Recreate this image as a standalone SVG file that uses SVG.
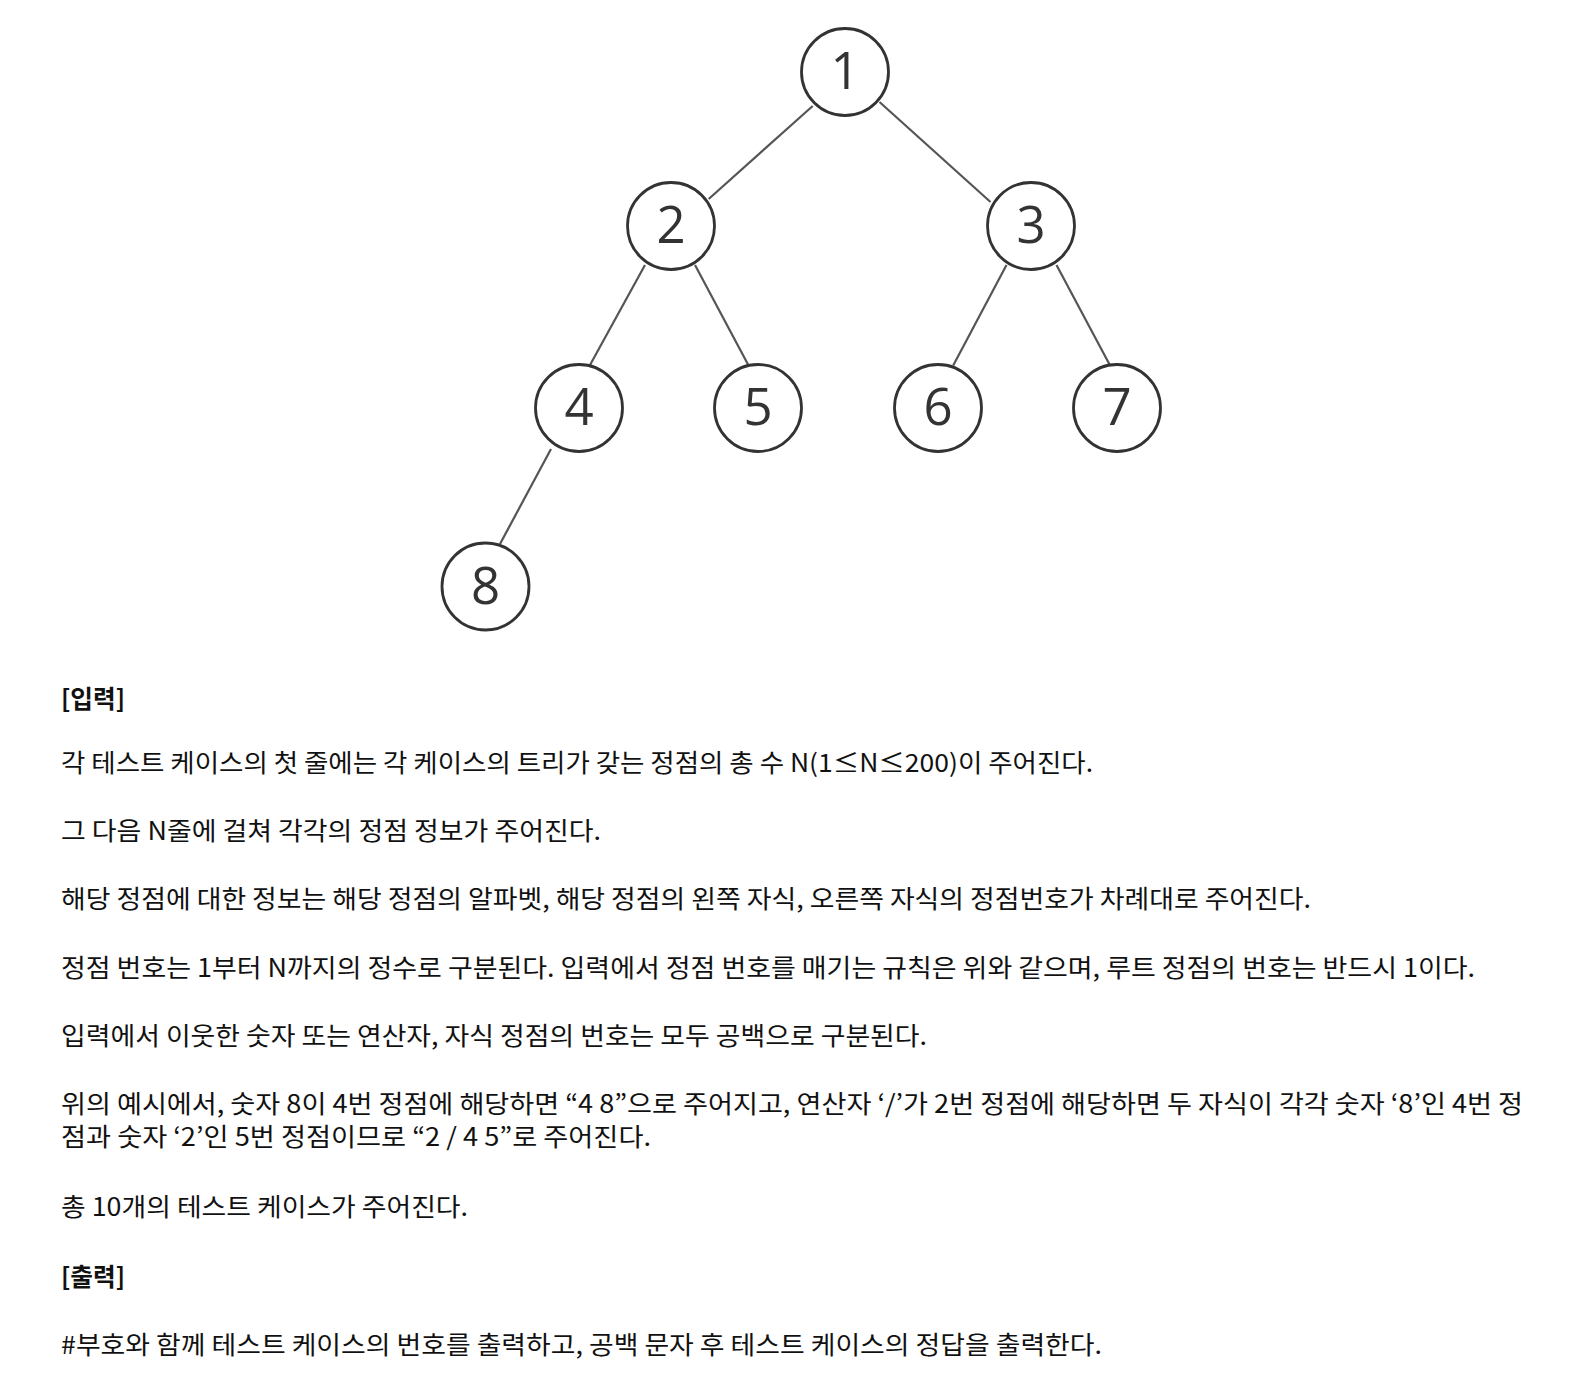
<svg xmlns="http://www.w3.org/2000/svg" width="1594" height="1382" viewBox="0 0 1594 1382">
<style>
.node circle{fill:#fff;stroke:#333;stroke-width:2.8}
.node text{font-family:"Open Sans","Noto Sans",sans-serif;font-size:51px;fill:#333;text-anchor:middle}
.edges line{stroke:#555;stroke-width:2.2}
.t{font-family:"Noto Sans CJK KR","Noto Sans",sans-serif;font-size:25px;fill:#111}
.h{font-weight:bold}
</style>
<rect width="1594" height="1382" fill="#fff"/>
<g id="edges" class="edges">
<line x1="812.7" y1="106" x2="708.7" y2="199"/>
<line x1="879.5" y1="102" x2="990.5" y2="202"/>
<line x1="645" y1="265" x2="590" y2="365"/>
<line x1="695" y1="265" x2="748.3" y2="365"/>
<line x1="1006.5" y1="265" x2="953.2" y2="365.5"/>
<line x1="1056.5" y1="265" x2="1109.8" y2="365"/>
<line x1="551" y1="449" x2="500" y2="544"/>
</g>
<g id="n1" class="node"><circle cx="845" cy="72" r="43.5"/><text x="845" y="89">1</text></g>
<g id="n2" class="node"><circle cx="671" cy="226" r="43.5"/><text x="671" y="243">2</text></g>
<g id="n3" class="node"><circle cx="1031" cy="226" r="43.5"/><text x="1031" y="243">3</text></g>
<g id="n4" class="node"><circle cx="579" cy="408" r="43.5"/><text x="579" y="425">4</text></g>
<g id="n5" class="node"><circle cx="758" cy="408" r="43.5"/><text x="758" y="425">5</text></g>
<g id="n6" class="node"><circle cx="938" cy="408" r="43.5"/><text x="938" y="425">6</text></g>
<g id="n7" class="node"><circle cx="1117" cy="408" r="43.5"/><text x="1117" y="425">7</text></g>
<g id="n8" class="node"><circle cx="485.5" cy="586.5" r="43.5"/><text x="485.5" y="603.5">8</text></g>
<g id="text">
<text class="t h" x="61" y="708" textLength="64" lengthAdjust="spacingAndGlyphs">[입력]</text>
<text class="t" x="61" y="772" textLength="1032" lengthAdjust="spacingAndGlyphs">각 테스트 케이스의 첫 줄에는 각 케이스의 트리가 갖는 정점의 총 수 N(1≤N≤200)이 주어진다.</text>
<text class="t" x="61" y="840" textLength="540" lengthAdjust="spacingAndGlyphs">그 다음 N줄에 걸쳐 각각의 정점 정보가 주어진다.</text>
<text class="t" x="61" y="908" textLength="1250" lengthAdjust="spacingAndGlyphs">해당 정점에 대한 정보는 해당 정점의 알파벳, 해당 정점의 왼쪽 자식, 오른쪽 자식의 정점번호가 차례대로 주어진다.</text>
<text class="t" x="61" y="977" textLength="1414" lengthAdjust="spacingAndGlyphs">정점 번호는 1부터 N까지의 정수로 구분된다. 입력에서 정점 번호를 매기는 규칙은 위와 같으며, 루트 정점의 번호는 반드시 1이다.</text>
<text class="t" x="61" y="1045" textLength="866" lengthAdjust="spacingAndGlyphs">입력에서 이웃한 숫자 또는 연산자, 자식 정점의 번호는 모두 공백으로 구분된다.</text>
<text class="t" x="61" y="1113" textLength="1462" lengthAdjust="spacingAndGlyphs">위의 예시에서, 숫자 8이 4번 정점에 해당하면 “4 8”으로 주어지고, 연산자 ‘/’가 2번 정점에 해당하면 두 자식이 각각 숫자 ‘8’인 4번 정</text>
<text class="t" x="61" y="1146" textLength="590" lengthAdjust="spacingAndGlyphs">점과 숫자 ‘2’인 5번 정점이므로 “2 / 4 5”로 주어진다.</text>
<text class="t" x="61" y="1216" textLength="407" lengthAdjust="spacingAndGlyphs">총 10개의 테스트 케이스가 주어진다.</text>
<text class="t h" x="61" y="1286" textLength="64" lengthAdjust="spacingAndGlyphs">[출력]</text>
<text class="t" x="61" y="1354" textLength="1041" lengthAdjust="spacingAndGlyphs">#부호와 함께 테스트 케이스의 번호를 출력하고, 공백 문자 후 테스트 케이스의 정답을 출력한다.</text>
</g>
</svg>
